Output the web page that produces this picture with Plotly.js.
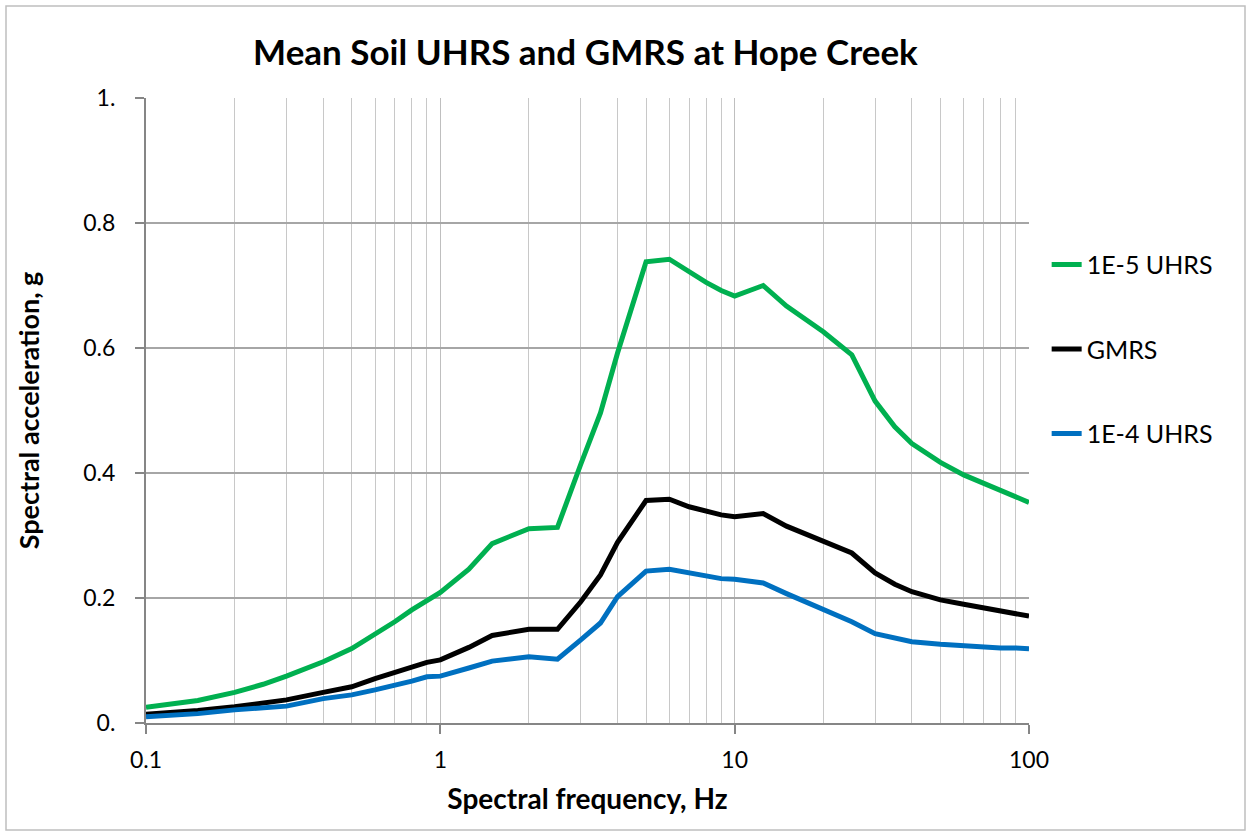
<!DOCTYPE html>
<html>
<head>
<meta charset="utf-8">
<script src="https://cdn.plot.ly/plotly-3.0.1.min.js"></script>
<style>
html,body{margin:0;padding:0;background:#fff;}
#chart{width:1251px;height:836px;}
</style>
</head>
<body>
<div id="chart"></div>
<script>
const freq = [0.1,0.125,0.15,0.2,0.25,0.3,0.4,0.5,0.6,0.7,0.8,0.9,1,1.25,1.5,2,2.5,3,3.5,4,5,6,7,8,9,10,12.5,15,20,25,30,35,40,50,60,70,80,90,100];
const uhrs1e5 = [0.025,0.030,0.036,0.049,0.062,0.075,0.098,0.119,0.142,0.162,0.181,0.197,0.209,0.246,0.287,0.311,0.313,0.414,0.496,0.592,0.738,0.742,0.722,0.705,0.692,0.683,0.700,0.667,0.626,0.589,0.515,0.474,0.447,0.417,0.397,0.384,0.373,0.363,0.353];
const gmrs = [0.014,0.017,0.020,0.026,0.031,0.037,0.049,0.058,0.071,0.081,0.090,0.097,0.101,0.121,0.140,0.150,0.150,0.194,0.237,0.289,0.356,0.358,0.346,0.338,0.333,0.330,0.335,0.315,0.291,0.272,0.240,0.222,0.210,0.197,0.190,0.184,0.179,0.175,0.171];
const uhrs1e4 = [0.010,0.012,0.015,0.021,0.024,0.027,0.039,0.045,0.053,0.060,0.067,0.074,0.075,0.088,0.099,0.106,0.102,0.133,0.160,0.202,0.243,0.246,0.240,0.234,0.231,0.230,0.224,0.207,0.181,0.162,0.143,0.135,0.130,0.126,0.123,0.121,0.120,0.120,0.119];
const seriesNames = ["1E-5 UHRS","GMRS","1E-4 UHRS"];
const yTickVals = [0,0.2,0.4,0.6,0.8,1];
const yTickText = ["0.","0.2","0.4","0.6","0.8","1."];
const xTickVals = [0.1,1,10,100];
const xTickText = ["0.1","1","10","100"];
const xMinorVals = [0.2,0.3,0.4,0.5,0.6,0.7,0.8,0.9,2,3,4,5,6,7,8,9,20,30,40,50,60,70,80,90];

const font = "Lato, 'Open Sans', sans-serif";
const colors = ["#00b050","#000000","#0070c0"];
const ys = [uhrs1e5, gmrs, uhrs1e4];
const traces = ys.map((y,i)=>({
  x: freq, y: y, type: 'scatter', mode: 'lines', name: seriesNames[i],
  legendgroup: 'g'+i,
  line: {color: colors[i], width: 5},
  hoverinfo: 'x+y'
}));

const layout = {
  width: 1251, height: 836,
  paper_bgcolor: '#ffffff', plot_bgcolor: '#ffffff',
  margin: {l:146, r:222, t:98, b:113},
  font: {family: font, color: '#000'},
  title: {text: 'Mean Soil UHRS and GMRS at Hope Creek', font: {family: font, size: 35, weight: 'bold', color:'#000'}, x: 0.468, xanchor: 'center', y: 0.937, yanchor: 'middle'},
  xaxis: {
    type: 'log', range: [-1, 2],
    tickmode: 'array', tickvals: xTickVals, ticktext: xTickText,
    ticks: 'outside', ticklen: 9, tickcolor: '#868686', tickwidth: 1.5,
    ticklabelstandoff: 6,
    showline: true, linecolor: '#868686', linewidth: 2,
    showgrid: true, gridcolor: '#bfbfbf', gridwidth: 1.3,
    minor: {tickmode: 'array', tickvals: xMinorVals, showgrid: true, gridcolor: '#c8c8c8', gridwidth: 1.3, ticks: ''},
    tickfont: {family: font, size: 23, color: '#000'},
    title: {text: 'Spectral frequency, Hz', font: {family: font, size: 28, weight: 'bold', color: '#000'}, standoff: 18},
    zeroline: false
  },
  yaxis: {
    range: [0, 1],
    tickmode: 'array', tickvals: yTickVals, ticktext: yTickText,
    ticks: 'outside', ticklen: 9, tickcolor: '#868686', tickwidth: 1.5,
    ticklabelstandoff: 15,
    showline: true, linecolor: '#868686', linewidth: 2,
    showgrid: true, gridcolor: '#a6a6a6', gridwidth: 1.5,
    tickfont: {family: font, size: 23, color: '#000'},
    title: {text: 'Spectral acceleration, g', font: {family: font, size: 27, weight: 'bold', color: '#000'}, standoff: 36},
    zeroline: false
  },
  showlegend: true,
  legend: {
    x: 1.02, xanchor: 'left', y: 0.77, yanchor: 'top',
    traceorder: 'grouped', tracegroupgap: 49,
    font: {family: font, size: 25, color: '#000'},
    bgcolor: 'rgba(0,0,0,0)', itemwidth: 30
  },
  shapes: [{
    type: 'rect', xref: 'paper', yref: 'paper',
    x0: (6-146)/883, x1: (1245-146)/883, y0: (723-830)/625, y1: (723-6)/625,
    line: {color: '#bfbfbf', width: 1.5}, fillcolor: 'rgba(0,0,0,0)', layer: 'below'
  }]
};

Plotly.newPlot('chart', traces, layout, {displayModeBar: false, staticPlot: false});
</script>
</body>
</html>
